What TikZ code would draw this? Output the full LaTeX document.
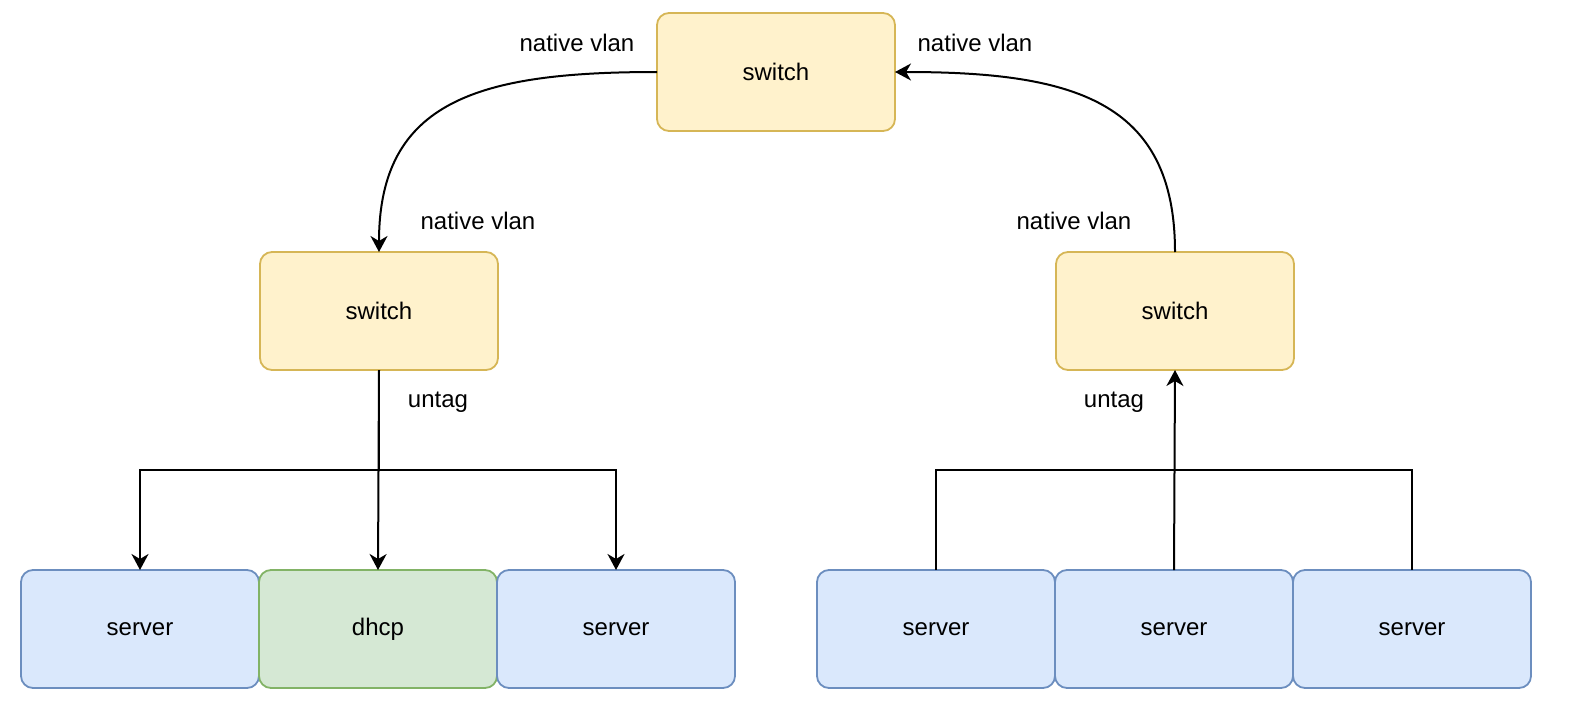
\documentclass[tikz,border=0pt]{standalone}
\usepackage{fontspec}
\setmainfont{Liberation Sans}
\usetikzlibrary{positioning,arrows.meta}
\definecolor{swfill}{HTML}{FFF2CC}
\definecolor{swdraw}{HTML}{D6B656}
\definecolor{srvfill}{HTML}{DAE8FC}
\definecolor{srvdraw}{HTML}{6C8EBF}
\definecolor{dhfill}{HTML}{D5E8D4}
\definecolor{dhdraw}{HTML}{82B366}

\begin{document}
\begin{tikzpicture}[x=0.5bp, y=-0.5bp, font=\fontsize{12bp}{14bp}\selectfont,
    box/.style={rectangle, rounded corners=6bp, line width=0.9bp, outer sep=0pt,
      minimum width=119bp, minimum height=59bp},
    switchbox/.style={box, fill=swfill, draw=swdraw},
    serverbox/.style={box, fill=srvfill, draw=srvdraw},
    dhcpbox/.style={box, fill=dhfill, draw=dhdraw},
    arr/.style={line width=1bp, -{Stealth[length=8bp, width=8.5bp, inset=2.5bp]}},
    link/.style={line width=1bp},
    node distance=0pt]
    \useasboundingbox (0,0) rectangle (1576,728);
    % switches
    \node[switchbox] (swtop) at (776,72) {switch};
    \node[switchbox] (swleft) at (379,311) {switch};
    \node[switchbox] (swright) at (1175,311) {switch};
    % left row
    \node[serverbox] (srv0) at (140,629) {server};
    \node[dhcpbox, right=of srv0] (dhcp) {dhcp};
    \node[serverbox, right=of dhcp] (srv1) {server};
    % right row
    \node[serverbox] (srv2) at (936,629) {server};
    \node[serverbox, right=of srv2] (srv3) {server};
    \node[serverbox, right=of srv3] (srv4) {server};
    % labels
    \node (vlan0) at (577,43) {native vlan};
    \node (vlan1) at (975,43) {native vlan};
    \node (vlan2) at (478,221) {native vlan};
    \node (vlan3) at (1074,221) {native vlan};
    \node (untag0) at (438,402) {untag};
    \node (untag1) at (1114,402) {untag};
    % links
    \draw[arr] (swtop.west) .. controls +(-177,0) and +(0,-152) .. (swleft.north);
    \draw[arr] (swright.north) .. controls +(0,-152) and +(177,0) .. (swtop.east);
    \draw[arr] (swleft.south) -- (dhcp.north);
    \draw[arr] (swleft.south) -- ++(0,100) -| (srv0.north);
    \draw[arr] (swleft.south) -- ++(0,100) -| (srv1.north);
    \draw[arr] (srv3.north) -- (swright.south);
    \draw[link] (srv2.north) -- ++(0,-100) -| (srv4.north);
\end{tikzpicture}
\end{document}
